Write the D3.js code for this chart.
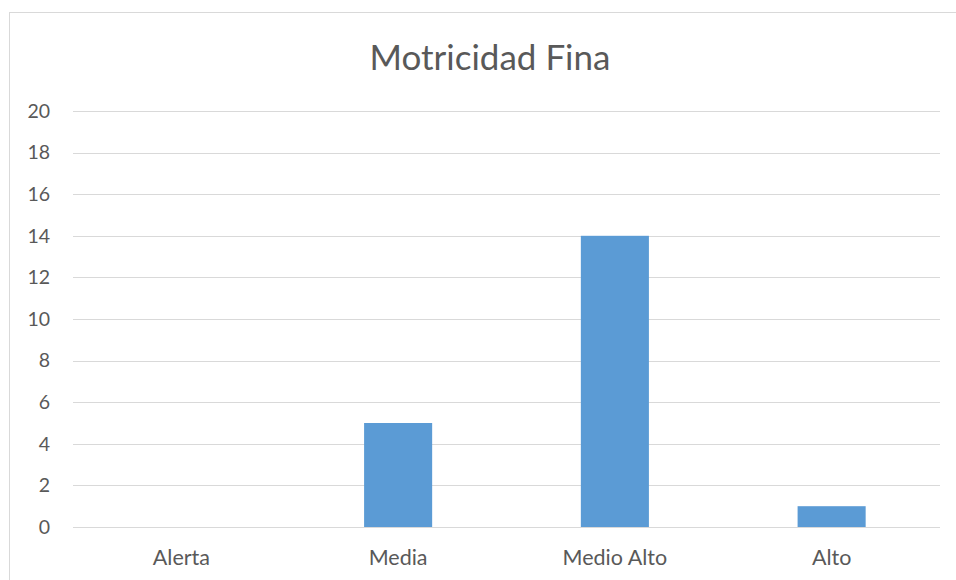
<!DOCTYPE html>
<html>
<head>
<meta charset="utf-8">
<script src="https://cdn.jsdelivr.net/npm/d3@7"></script>
<style>
  body { margin: 0; background: #fff; }
  svg { display: block; }
  text { font-family: Lato, "Open Sans", sans-serif; fill: #595959; }
</style>
</head>
<body>
<div id="chart"></div>
<script>
const categories = ['Alerta', 'Media', 'Medio Alto', 'Alto'];
const values = [0, 5, 14, 1];
const yTicks = [0, 2, 4, 6, 8, 10, 12, 14, 16, 18, 20];
const title = 'Motricidad Fina';

const width = 956;
const height = 580;
const margin = {top: 111, right: 16, bottom: 53, left: 73};

const svg = d3.select('#chart')
    .append('svg')
    .attr('width', width)
    .attr('height', height);

// chart frame (runs off the right and bottom edges like the source)
svg.append('rect')
    .attr('x', 9.5)
    .attr('y', 12.5)
    .attr('width', 970)
    .attr('height', 600)
    .attr('fill', 'none')
    .attr('stroke', '#d9d9d9');

const x = d3.scaleBand()
    .domain(categories)
    .range([margin.left, width - margin.right])
    .paddingInner(0.686)
    .paddingOuter(0.343);

const y = d3.scaleLinear()
    .domain([0, 20])
    .range([height - margin.bottom, margin.top]);

// gridlines
svg.append('g')
    .attr('class', 'grid')
    .selectAll('line')
    .data(yTicks)
    .enter()
    .append('line')
    .attr('x1', margin.left)
    .attr('x2', width - margin.right)
    .attr('y1', d => Math.round(y(d)) + 0.5)
    .attr('y2', d => Math.round(y(d)) + 0.5)
    .attr('stroke', '#d9d9d9')
    .attr('stroke-width', 1);

// y axis labels
const yAxis = d3.axisLeft(y).tickValues(yTicks).tickSize(0).tickPadding(0);
svg.append('g')
    .attr('transform', `translate(50,0)`)
    .call(yAxis)
    .call(g => g.select('.domain').remove())
    .selectAll('text')
    .style('font-size', '19.5px')
    .style('font-family', 'Lato, sans-serif')
    .attr('fill', '#595959');

// bars
svg.append('g')
    .selectAll('rect')
    .data(values)
    .enter()
    .append('rect')
    .attr('x', (d, i) => x(categories[i]))
    .attr('y', d => y(d))
    .attr('width', x.bandwidth())
    .attr('height', d => y(0) - y(d))
    .attr('fill', '#5b9bd5');

// x axis labels
const xAxis = d3.axisBottom(x).tickSize(0).tickPadding(0);
svg.append('g')
    .attr('transform', `translate(0,565)`)
    .call(xAxis)
    .call(g => g.select('.domain').remove())
    .selectAll('text')
    .attr('y', 0)
    .attr('dy', null)
    .style('font-size', '21.5px')
    .style('font-family', 'Lato, sans-serif')
    .attr('fill', '#595959');

// title
svg.append('text')
    .attr('x', 490)
    .attr('y', 70)
    .attr('text-anchor', 'middle')
    .style('font-size', '35px')
    .text(title);
</script>
</body>
</html>
